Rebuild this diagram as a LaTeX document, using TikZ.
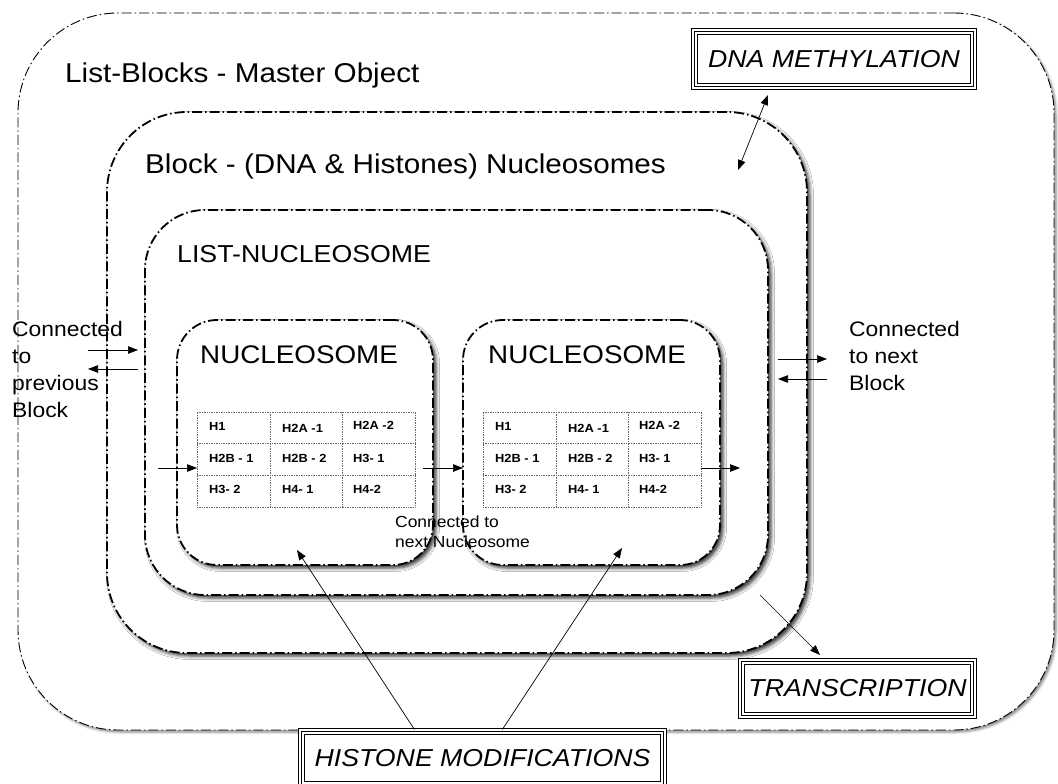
\documentclass[tikz,border=0pt]{standalone}
\usepackage{fontspec}
\setmainfont{Liberation Sans}[FakeStretch=1.09]
\usetikzlibrary{arrows.meta,shadows.blur}
\begin{document}
\begin{tikzpicture}[x=1pt,y=-1pt,
  dashdot/.style={dash pattern=on 10pt off 3pt on 1.5pt off 3pt},
  layer/.style={draw, dashdot, fill=white, anchor=north west, inner sep=0pt, outer sep=0pt},
  shad/.style={blur shadow={shadow xshift=3pt, shadow yshift=-3pt, shadow blur radius=3.5pt, shadow opacity=80}},
  lightshad/.style={blur shadow={shadow xshift=2pt, shadow yshift=-2pt, shadow blur radius=2.5pt, shadow opacity=50}},
  ttl/.style={anchor=base west, inner sep=0pt, font=\fontsize{27.2}{31}\selectfont},
  side/.style={anchor=north west, inner sep=0pt, align=left, font=\fontsize{21}{27}\selectfont},
  small/.style={anchor=north west, inner sep=0pt, align=left, font=\fontsize{16}{20}\selectfont},
  cell/.style={anchor=base west, inner sep=0pt, font=\bfseries\fontsize{11.8}{13}\selectfont},
  grid/.style={densely dotted, gray!80!black, line width=0.7pt},
  tbox/.style={draw, double, double distance=1.1pt, line width=1.2pt, fill=white, inner sep=0pt,
    font=\itshape\fontsize{24.5}{28}\selectfont,
    path picture={\draw[line width=0.8pt] ([shift={(4.4pt,-4.4pt)}]path picture bounding box.north west) rectangle ([shift={(-4.4pt,4.4pt)}]path picture bounding box.south east);}},
  arr/.style={-{Triangle[length=10pt,width=7.5pt]}, line width=0.7pt},
  dblarr/.style={{Triangle[length=10pt,width=7.5pt]}-{Triangle[length=10pt,width=7.5pt]}, line width=0.7pt}
]
\useasboundingbox (0,0) rectangle (1058,784);
\clip (0,0) rectangle (1058,784);

% nested containers
\node[layer, lightshad, line width=0.9pt, minimum width=1036pt, minimum height=717pt, rounded corners=100pt] (listblocks) at (18,13) {};
\node[layer, shad, line width=1.8pt, minimum width=700pt, minimum height=541pt, rounded corners=80pt] (block) at (107,112) {};
\node[layer, shad, line width=1.8pt, minimum width=623pt, minimum height=385pt, rounded corners=60pt] (listnuc) at (145,210) {};
\node[layer, shad, line width=1.8pt, minimum width=256pt, minimum height=245pt, rounded corners=40pt] (n1) at (177,320) {};
\node[layer, shad, line width=1.8pt, minimum width=257pt, minimum height=245pt, rounded corners=40pt] (n2) at (463,320) {};

% titles
\node[ttl] (tlb) at (65,83) {List-Blocks - Master Object};
\node[ttl] (tbl) at (145,173) {Block - (DNA \& Histones) Nucleosomes};
\node[ttl, font=\fontsize{24.5}{28}\selectfont] (tln) at (177,262) {LIST-NUCLEOSOME};
\node[ttl, font=\fontsize{25.5}{28}\selectfont] (tn1) at (200,363) {NUCLEOSOME};
\node[ttl, font=\fontsize{25.5}{28}\selectfont] (tn2) at (488,363) {NUCLEOSOME};

% tables
\foreach \tx/\nm in {197/t1, 483/t2} {
  \node[draw, grid, anchor=north west, minimum width=218pt, minimum height=95pt, inner sep=0pt, outer sep=0pt] (\nm) at (\tx,412) {};
  \draw[grid] (\tx+73,412) -- (\tx+73,507);
  \draw[grid] (\tx+145,412) -- (\tx+145,507);
  \draw[grid] (\tx,443) -- (\tx+218,443);
  \draw[grid] (\tx,475) -- (\tx+218,475);
  \node[cell] (\nm-11) at (\tx+12,430) {H1};
  \node[cell] (\nm-12) at (\tx+85,432) {H2A -1};
  \node[cell] (\nm-13) at (\tx+156,429) {H2A -2};
  \node[cell] (\nm-21) at (\tx+12,462) {H2B - 1};
  \node[cell] (\nm-22) at (\tx+85,462) {H2B - 2};
  \node[cell] (\nm-23) at (\tx+156,462) {H3- 1};
  \node[cell] (\nm-31) at (\tx+12,493) {H3- 2};
  \node[cell] (\nm-32) at (\tx+85,493) {H4- 1};
  \node[cell] (\nm-33) at (\tx+156,493) {H4-2};
}

% side labels
\node[side] (prevtxt) at (12,321) {Connected\\to\\previous\\Block};
\node[side] (nexttxt) at (849,321) {Connected\\to next\\Block};
\node[small] (nuctxt) at (395,516) {Connected to\\next Nucleosome};

% boxed labels
\node[tbox, minimum width=282pt, minimum height=58pt] (dna) at (834,59) {DNA METHYLATION};
\node[tbox, minimum width=235pt, minimum height=57pt] (trans) at (857.5,688.5) {TRANSCRIPTION};
\node[tbox, minimum width=365pt, minimum height=56pt] (hm) at (482.5,758) {HISTONE MODIFICATIONS};

% connector end points
\coordinate (pa) at (88,350);
\coordinate (pb) at (138,350);
\coordinate (pc) at (138,369);
\coordinate (pd) at (88,369);
\coordinate (e0) at (158,468);
\coordinate (e3) at (740,468);
\coordinate (na) at (778,359);
\coordinate (nb) at (827,359);
\coordinate (nc) at (827,379);
\coordinate (nd) at (778,379);
\coordinate (dm1) at (738,170);
\coordinate (dm2) at (768,95);
\coordinate (tr1) at (760,595);
\coordinate (tr2) at (820,655);
\coordinate (h1) at (297,550);
\coordinate (h2) at (622,548);

% connectors
\draw[arr] (pa) -- (pb);
\draw[arr] (pc) -- (pd);
\draw[arr] (e0) -- (e0 -| t1.west);
\draw[arr] ([xshift=8pt]t1.east |- e0) -- (e0 -| n2.west);
\draw[arr] (t2.east |- e0) -- (e3);
\draw[arr] (na) -- (nb);
\draw[arr] (nc) -- (nd);
\draw[dblarr] (dm1) -- (dm2);
\draw[arr] (tr1) -- (tr2);
\draw[arr] ([xshift=115pt]hm.north west) -- (h1);
\draw[arr] ([xshift=203pt]hm.north west) -- (h2);
\end{tikzpicture}
\end{document}
